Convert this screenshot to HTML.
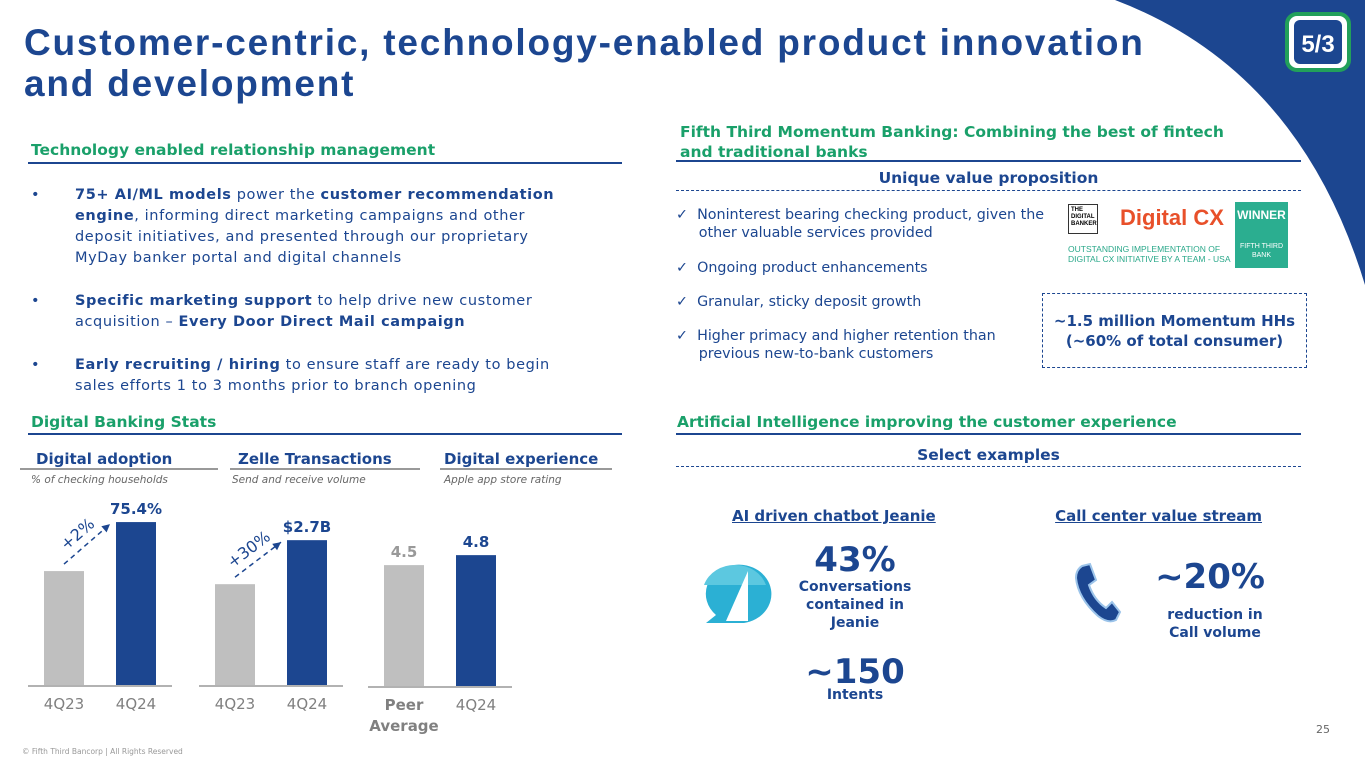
<!DOCTYPE html>
<html><head><meta charset="utf-8">
<style>
body{margin:0;width:1365px;height:768px;overflow:hidden;background:#fff;font-family:"DejaVu Sans","Liberation Sans",sans-serif;position:relative}
.abs{position:absolute}
.navy{color:#1c4690}
.green{color:#1aa06a}
.h2{font-weight:bold;font-size:15.5px}
.txt{font-size:14.5px;color:#1c4690;line-height:21px}
.line{position:absolute;height:2px;background:#1c4690}
.dash{position:absolute;border-top:1.5px dashed #1c4690;height:0}
.bl{position:relative;padding-left:44px}
.bl:before{content:"•";position:absolute;left:0}
</style></head>
<body>
<svg class="abs" style="left:0;top:0" width="1365" height="768">
<path d="M1115,0 Q1300,70 1365,285 L1365,0 Z" fill="#1c4690"/>
<rect x="1287" y="14" width="62" height="56" rx="10" fill="#fff" stroke="#22a05a" stroke-width="4"/>
<rect x="1294" y="20" width="48" height="44" rx="6" fill="#1c4690"/>
<text x="1318" y="52" font-size="24" font-weight="bold" fill="#fff" text-anchor="middle" font-family="Liberation Sans">5/3</text>
</svg>
<div class="abs navy" style="left:24px;top:22px;font-family:'Liberation Sans',sans-serif;font-size:37px;font-weight:bold;line-height:41px;width:1250px;letter-spacing:1.8px">Customer-centric, technology-enabled product innovation<br>and development</div>

<div class="abs green h2" style="left:31px;top:141px">Technology enabled relationship management</div>
<div class="line" style="left:28px;top:162px;width:594px"></div>
<div class="abs txt" style="left:31px;top:185px;width:620px;letter-spacing:0.6px">
<div class="bl"><b>75+ AI/ML models</b> power the <b>customer recommendation</b><br><b>engine</b>, informing direct marketing campaigns and other<br>deposit initiatives, and presented through our proprietary<br>MyDay banker portal and digital channels</div>
<div class="bl" style="margin-top:22px"><b>Specific marketing support</b> to help drive new customer<br>acquisition – <b>Every Door Direct Mail campaign</b></div>
<div class="bl" style="margin-top:22px"><b>Early recruiting / hiring</b> to ensure staff are ready to begin<br>sales efforts 1 to 3 months prior to branch opening</div>
</div>

<div class="abs green h2" style="left:680px;top:122px;line-height:20px">Fifth Third Momentum Banking: Combining the best of fintech<br>and traditional banks</div>
<div class="line" style="left:676px;top:160px;width:625px"></div>
<div class="abs navy h2" style="left:676px;top:169px;width:625px;text-align:center">Unique value proposition</div>
<div class="dash" style="left:676px;top:190px;width:625px"></div>
<div class="abs txt" style="left:676px;top:206px;font-size:14.3px;line-height:18px;width:380px">
<div>✓&nbsp; Noninterest bearing checking product, given the<br>&nbsp;&nbsp;&nbsp;&nbsp;&nbsp;other valuable services provided</div>
<div style="margin-top:17px">✓&nbsp; Ongoing product enhancements</div>
<div style="margin-top:16px">✓&nbsp; Granular, sticky deposit growth</div>
<div style="margin-top:16px">✓&nbsp; Higher primacy and higher retention than<br>&nbsp;&nbsp;&nbsp;&nbsp;&nbsp;previous new-to-bank customers</div>
</div>
<div class="abs" style="left:1068px;top:204px;width:30px;height:30px;border:1.5px solid #333;font-size:6px;font-weight:bold;line-height:7px;padding:2px;box-sizing:border-box;font-family:'Liberation Sans'">THE DIGITAL BANKER</div>
<div class="abs" style="left:1120px;top:205px;font-size:22px;font-weight:bold;color:#e8502a;font-family:'Liberation Sans'">Digital CX</div>
<div class="abs" style="left:1068px;top:244px;font-size:8.5px;color:#2aa88a;line-height:10px;font-family:'Liberation Sans'">OUTSTANDING IMPLEMENTATION OF<br>DIGITAL CX INITIATIVE BY A TEAM - USA</div>
<div class="abs" style="left:1235px;top:202px;width:53px;height:66px;background:#2bae90;color:#fff;text-align:center;font-size:12px;font-weight:bold;font-family:'Liberation Sans'"><div style="margin-top:6px">WINNER</div><div style="font-size:7px;font-weight:normal;margin-top:20px;line-height:9px">FIFTH THIRD<br>BANK</div></div>
<div class="abs navy" style="left:1042px;top:293px;width:265px;height:75px;border:1.5px dashed #1c4690;box-sizing:border-box;text-align:center;font-weight:bold;font-size:15px;line-height:20px;padding-top:17px">~1.5 million Momentum HHs<br>(~60% of total consumer)</div>

<div class="abs green h2" style="left:31px;top:413px">Digital Banking Stats</div>
<div class="line" style="left:28px;top:433px;width:594px"></div>
<div class="abs green h2" style="left:677px;top:413px">Artificial Intelligence improving the customer experience</div>
<div class="line" style="left:676px;top:433px;width:625px"></div>
<div class="abs navy h2" style="left:676px;top:446px;text-align:center;width:625px">Select examples</div>
<div class="dash" style="left:676px;top:466px;width:625px"></div>

<div class="abs navy h2" style="left:36px;top:450px;font-size:15px">Digital adoption</div>
<div class="abs navy h2" style="left:238px;top:450px;font-size:15px">Zelle Transactions</div>
<div class="abs navy h2" style="left:444px;top:450px;font-size:15px">Digital experience</div>
<div class="abs" style="left:20px;top:468px;width:198px;height:2px;background:#999"></div>
<div class="abs" style="left:230px;top:468px;width:190px;height:2px;background:#999"></div>
<div class="abs" style="left:440px;top:468px;width:172px;height:2px;background:#999"></div>
<div class="abs" style="left:31px;top:474px;font-size:10.5px;font-style:italic;color:#666">% of checking households</div>
<div class="abs" style="left:232px;top:474px;font-size:10.5px;font-style:italic;color:#666">Send and receive volume</div>
<div class="abs" style="left:444px;top:474px;font-size:10.5px;font-style:italic;color:#666">Apple app store rating</div>

<svg id="charts" class="abs" style="left:0;top:0" width="640" height="768"></svg>

<div class="abs navy" style="left:732px;top:507px;font-size:15px;font-weight:bold;text-decoration:underline">AI driven chatbot Jeanie</div>
<div class="abs navy" style="left:972px;top:507px;font-size:15px;font-weight:bold;text-decoration:underline;width:290px;text-align:right">Call center value stream</div>
<svg class="abs" style="left:700px;top:563px" width="75" height="62">
<path d="M34,2 A32,29 0 1 1 44,60 L6,60 L16,52 A32,29 0 0 1 34,2 Z" fill="#2bb0d4"/>
<path d="M36,2 A32,29 0 0 1 66,22 L4,22 A32,29 0 0 1 36,2 Z" fill="#5cc8e0"/>
<path d="M48,8 L48,58 L26,58 Z" fill="#fff"/>
</svg>
<div class="abs navy" style="left:780px;top:540px;width:150px;text-align:center;font-size:34px;font-weight:bold">43%</div>
<div class="abs navy" style="left:780px;top:578px;width:150px;text-align:center;font-size:14px;font-weight:bold;line-height:18px">Conversations<br>contained in<br>Jeanie</div>
<div class="abs navy" style="left:780px;top:652px;width:150px;text-align:center;font-size:34px;font-weight:bold">~150</div>
<div class="abs navy" style="left:780px;top:687px;width:150px;text-align:center;font-size:14px;font-weight:bold">Intents</div>
<svg class="abs" style="left:1072px;top:562px" width="50" height="62">
<path d="M10,4 L18,2 L24,18 L17,23 Q22,38 34,46 L40,40 L48,50 L44,58 Q36,62 26,54 Q6,36 4,16 Q4,8 10,4 Z" fill="#1c4690" stroke="#9cc4ea" stroke-width="2"/>
</svg>
<div class="abs navy" style="left:1140px;top:557px;width:140px;text-align:center;font-size:34px;font-weight:bold">~20%</div>
<div class="abs navy" style="left:1145px;top:606px;width:140px;text-align:center;font-size:14px;font-weight:bold;line-height:18px">reduction in<br>Call volume</div>

<div class="abs" style="left:22px;top:747px;font-size:7.5px;color:#999">© Fifth Third Bancorp | All Rights Reserved</div>
<div class="abs" style="left:1316px;top:723px;font-size:11px;color:#666">25</div>

<script>
const adoptCats=["4Q23","4Q24"];
const adoptVals=[73.4,75.4];
const adoptLabels=["","75.4%"];
const zelleCats=["4Q23","4Q24"];
const zelleVals=[2.08,2.7];
const zelleLabels=["","$2.7B"];
const ratingCats=["Peer|Average","4Q24"];
const ratingVals=[4.5,4.8];
const ratingLabels=["4.5","4.8"];
const svg=document.getElementById('charts');
const NS='http://www.w3.org/2000/svg';
function mk(t,a){const e=document.createElementNS(NS,t);for(const k in a)e.setAttribute(k,a[k]);svg.appendChild(e);return e;}
function chart(name,cats,vals,labels,x0,base,vmin,k,growth){
  const ax=mk('line',{x1:x0,x2:x0+144,y1:base+1,y2:base+1,stroke:'#999','stroke-width':1.5});
  
  
  const tops=[];
  vals.forEach((v,i)=>{
    const bx=x0+16+i*72,h=(v-vmin)*k,y=base-h;tops.push([bx,y]);
    const r=mk('rect',{x:bx,y:y,width:40,height:h,fill:i?'#1c4690':'#bfbfbf'});
    
    
    if(labels[i]){const t=mk('text',{x:bx+20,y:y-8,'text-anchor':'middle','font-size':15,'font-weight':'bold',fill:i?'#1c4690':'#999'});t.textContent=labels[i];
      
      }
    const parts=cats[i].split('|');
    parts.forEach((p,j)=>{const t=mk('text',{x:bx+20,y:base+24+j*21,'text-anchor':'middle','font-size':15,'font-weight':parts.length>1?'bold':'normal',fill:'#808080'});t.textContent=p;
      
      });
  });
  if(growth){
    const [a,b]=tops;const x1=a[0]+20,y1=a[1]-7,x2=b[0]-6,y2=b[1]+2;
    mk('line',{x1:x1,y1:y1,x2:x2,y2:y2,stroke:'#1c4690','stroke-width':1.5,'stroke-dasharray':'5,4'});
    const ang=Math.atan2(y2-y1,x2-x1)*180/Math.PI;
    mk('path',{d:'M0,0 L-8,-4 L-8,4 Z',fill:'#1c4690',transform:`translate(${x2},${y2}) rotate(${ang})`});
    const t=mk('text',{x:(x1+x2)/2-6,y:(y1+y2)/2-6,'text-anchor':'middle','font-size':16,fill:'#1c4690',transform:`rotate(${ang},${(x1+x2)/2-6},${(y1+y2)/2-6})`});
    t.textContent=growth;
    
    
  }
}
chart('adoption',adoptCats,adoptVals,adoptLabels,28,685,68.75,24.5,'+2%');
chart('zelle',zelleCats,zelleVals,zelleLabels,199,685,0.66,71,'+30%');
chart('rating',ratingCats,ratingVals,ratingLabels,368,686,0.87,33.3,null);
</script>
</body></html>
